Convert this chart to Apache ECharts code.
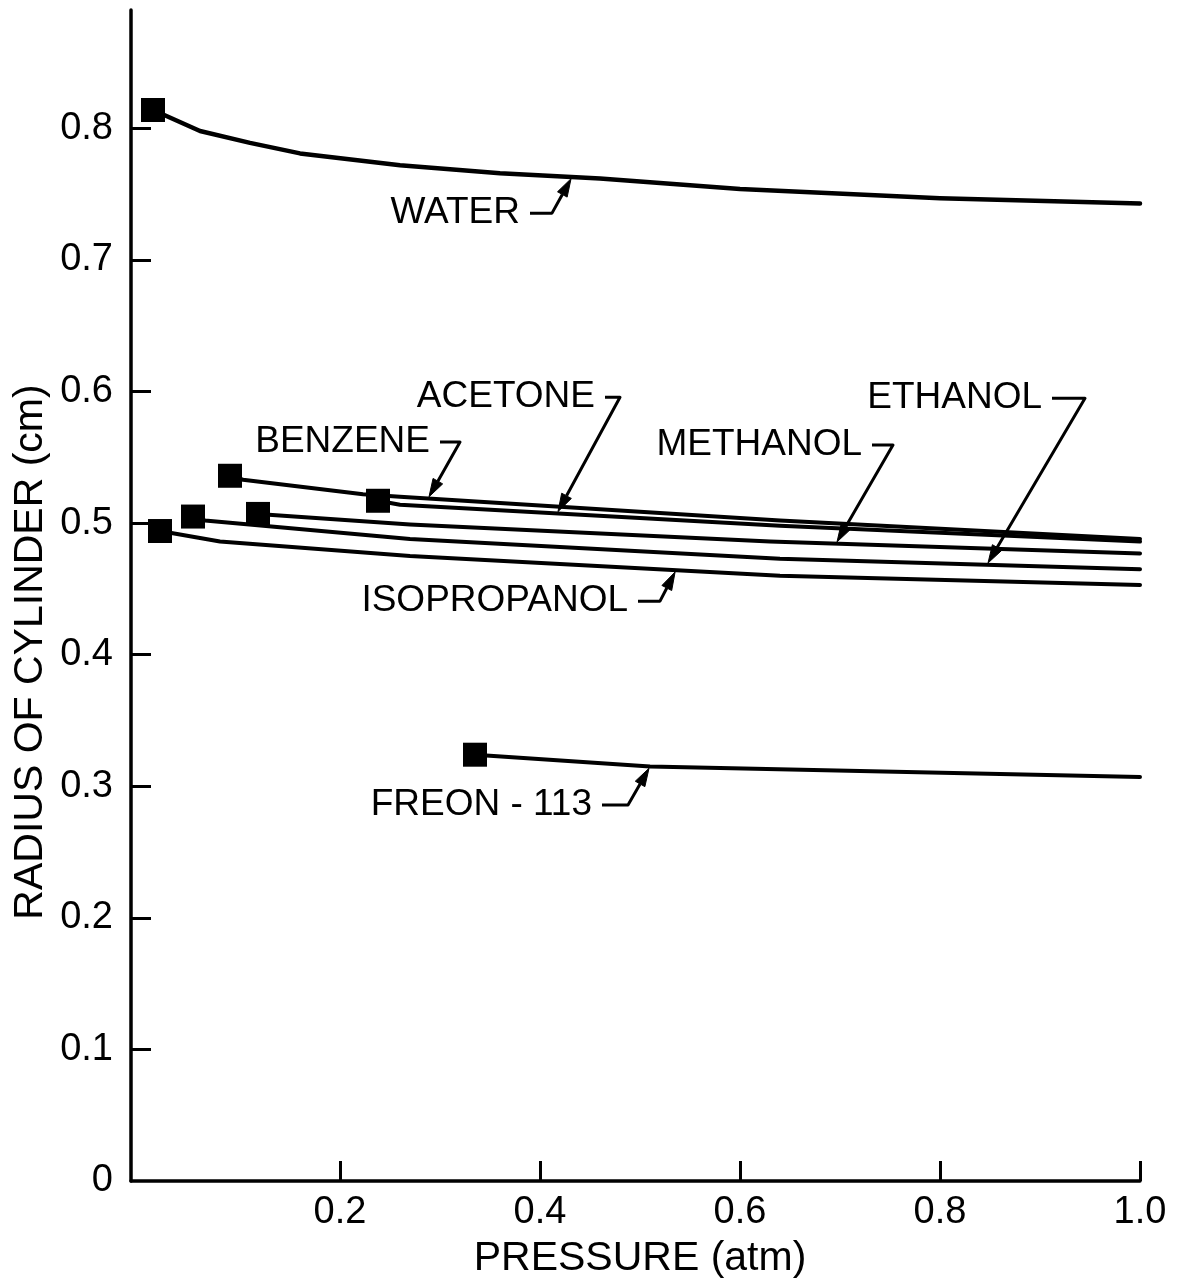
<!DOCTYPE html>
<html>
<head>
<meta charset="utf-8">
<script src="https://cdn.jsdelivr.net/npm/echarts@6/dist/echarts.min.js"></script>
<style>
  html, body { margin: 0; padding: 0; background: #ffffff; }
  #chart { width: 1181px; height: 1283px; }
</style>
</head>
<body>
<div id="chart"></div>
<script>
// Radius of the cylinder [cm] against pressure [atm], one curve per liquid.
// Each pair is [pressure, radius]; the first pair marks the curve's start.
const water       = [[0.013, 0.814], [0.060, 0.798], [0.110, 0.789], [0.160, 0.781], [0.260, 0.772], [0.360, 0.766], [0.460, 0.762], [0.600, 0.754], [0.800, 0.747], [1.000, 0.743]];
const benzene     = [[0.090, 0.536], [0.103, 0.533], [0.223, 0.522], [0.260, 0.520], [0.640, 0.502], [1.000, 0.488]];
const acetone     = [[0.238, 0.517], [0.260, 0.514], [0.640, 0.498], [1.000, 0.486]];
const methanol    = [[0.118, 0.507], [0.270, 0.499], [0.630, 0.486], [1.000, 0.477]];
const ethanol     = [[0.053, 0.505], [0.065, 0.502], [0.270, 0.488], [0.640, 0.473], [1.000, 0.465]];
const isopropanol = [[0.020, 0.494], [0.080, 0.486], [0.270, 0.475], [0.640, 0.460], [1.000, 0.453]];
const freon113    = [[0.335, 0.324], [0.510, 0.315], [1.000, 0.307]];

const liquidNames = ['WATER', 'BENZENE', 'ACETONE', 'METHANOL', 'ETHANOL', 'ISOPROPANOL', 'FREON - 113'];
const liquidCurves = [water, benzene, acetone, methanol, ethanol, isopropanol, freon113];

// Tick values
const xTickValues = [0.2, 0.4, 0.6, 0.8, 1.0];
const yTickValues = [0.1, 0.2, 0.3, 0.4, 0.5, 0.6, 0.7, 0.8];
const yLabelValues = [0, 0.1, 0.2, 0.3, 0.4, 0.5, 0.6, 0.7, 0.8];

const xTitle = 'PRESSURE (atm)';
const yTitle = 'RADIUS OF CYLINDER (cm)';

// Curve callouts: which curve, where the arrow touches it (pressure),
// the right end of the label and the end of the short hook, in axis units.
const callouts = [
  { curve: 0, tipX: 0.432, labelX: 0.380, labelY: 0.7356, hookX: 0.412 },
  { curve: 1, tipX: 0.288, labelX: 0.290, labelY: 0.5616, hookX: 0.320 },
  { curve: 2, tipX: 0.417, labelX: 0.455, labelY: 0.5957, hookX: 0.480 },
  { curve: 3, tipX: 0.696, labelX: 0.722, labelY: 0.5593, hookX: 0.753 },
  { curve: 4, tipX: 0.847, labelX: 0.902, labelY: 0.5950, hookX: 0.945 },
  { curve: 5, tipX: 0.536, labelX: 0.488, labelY: 0.4407, hookX: 0.520 },
  { curve: 6, tipX: 0.510, labelX: 0.452, labelY: 0.2857, hookX: 0.488 }
];

const FONT = 'Liberation Sans, Arial, sans-serif';
const INK = '#000000';

const chart = echarts.init(document.getElementById('chart'), null, { renderer: 'canvas' });

const lineSeries = liquidCurves.map((curve, i) => ({
  name: liquidNames[i],
  type: 'line',
  data: curve,
  symbol: 'none',
  smooth: false,
  lineStyle: { color: INK, width: i === 0 ? 4.5 : 4, join: 'round', cap: 'round' },
  z: 3
}));

const startMarkers = {
  type: 'scatter',
  data: liquidCurves.map(c => c[0]),
  symbol: 'rect',
  symbolSize: 24,
  itemStyle: { color: INK, opacity: 1 },
  emphasis: { disabled: true },
  z: 5
};

const tickFmt = v => (v === 0 ? '0' : v.toFixed(1));

chart.setOption({
  animation: false,
  backgroundColor: '#ffffff',
  grid: { left: 131, right: 41, top: 10, bottom: 102, containLabel: false },
  xAxis: {
    type: 'value',
    min: -0.009,
    max: 1.0,
    axisLine: { show: true, onZero: false, lineStyle: { color: INK, width: 3.5 } },
    axisTick: { show: true, inside: true, length: 20, customValues: xTickValues, lineStyle: { color: INK, width: 3 } },
    axisLabel: { customValues: xTickValues, formatter: tickFmt, color: INK, fontFamily: FONT, fontSize: 38, margin: 13 },
    splitLine: { show: false }
  },
  yAxis: {
    type: 'value',
    min: 0,
    max: 0.89,
    axisLine: { show: true, onZero: false, lineStyle: { color: INK, width: 3.5 } },
    axisTick: { show: true, inside: true, length: 20, customValues: yTickValues, lineStyle: { color: INK, width: 3 } },
    axisLabel: { customValues: yLabelValues, formatter: tickFmt, color: INK, fontFamily: FONT, fontSize: 38, margin: 18 },
    splitLine: { show: false }
  },
  series: lineSeries.concat([startMarkers])
});

// Linear read-out of a curve at a given pressure
function valueAt(curve, x) {
  for (let i = 1; i < curve.length; i++) {
    const a = curve[i - 1], b = curve[i];
    if (x <= b[0]) {
      const t = (x - a[0]) / (b[0] - a[0]);
      return a[1] + t * (b[1] - a[1]);
    }
  }
  return curve[curve.length - 1][1];
}

function drawOverlay() {
  const toPx = p => chart.convertToPixel({ gridIndex: 0 }, p);
  const elements = [];

  callouts.forEach(c => {
    const curve = liquidCurves[c.curve];
    const textPt = toPx([c.labelX, c.labelY]);
    const hookEnd = toPx([c.hookX, c.labelY]);
    const tip = toPx([c.tipX, valueAt(curve, c.tipX)]);
    const dirX = c.hookX >= c.labelX ? 1 : -1;
    const hookStart = [textPt[0] + 10 * dirX, textPt[1]];

    elements.push({
      type: 'text',
      style: {
        text: liquidNames[c.curve],
        x: textPt[0], y: textPt[1],
        align: 'right', verticalAlign: 'middle',
        font: '37px ' + FONT, fill: INK
      },
      z: 10
    });

    // stop the leader a little short of the curve and cap it with an arrowhead
    const dx = tip[0] - hookEnd[0], dy = tip[1] - hookEnd[1];
    const len = Math.hypot(dx, dy);
    const ux = dx / len, uy = dy / len;
    const end = [tip[0] - ux * 2, tip[1] - uy * 2];
    const headLen = 18, headHalf = 5.5;
    const base = [end[0] - ux * headLen, end[1] - uy * headLen];

    elements.push({
      type: 'polyline',
      shape: { points: [hookStart, hookEnd, base] },
      style: { stroke: INK, lineWidth: 3, fill: null, lineJoin: 'round' },
      z: 10
    });
    elements.push({
      type: 'polygon',
      shape: { points: [end, [base[0] - uy * headHalf, base[1] + ux * headHalf], [base[0] + uy * headHalf, base[1] - ux * headHalf]] },
      style: { fill: INK, stroke: INK, lineWidth: 1 },
      z: 10
    });
  });

  // axis titles
  elements.push({
    type: 'text',
    style: { text: xTitle, x: 640, y: 1259, align: 'center', verticalAlign: 'middle', font: '41px ' + FONT, fill: INK },
    z: 10
  });
  elements.push({
    type: 'text',
    x: 31, y: 652,
    rotation: Math.PI / 2,
    style: { text: yTitle, x: 0, y: 0, align: 'center', verticalAlign: 'middle', font: '41px ' + FONT, fill: INK },
    z: 10
  });

  chart.setOption({ graphic: { elements: elements } });
}

drawOverlay();
</script>
</body>
</html>
